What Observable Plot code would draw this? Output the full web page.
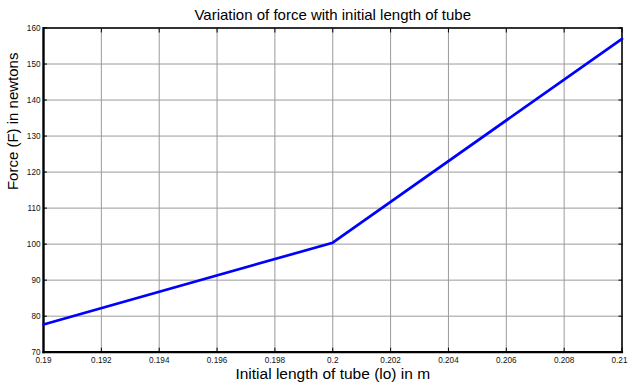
<!DOCTYPE html>
<html>
<head>
<meta charset="utf-8">
<script src="https://cdn.jsdelivr.net/npm/d3@7"></script>
<script src="https://cdn.jsdelivr.net/npm/@observablehq/plot@0.6"></script>
<style>
  html, body { margin: 0; padding: 0; background: #fff; }
  svg { font-family: "Liberation Sans", Arial, sans-serif; }
</style>
</head>
<body>
<div id="chart"></div>
<script>
const lengths = [0.19, 0.2, 0.21];
const forces = [77.7, 100.4, 157.0];
const xTicks = [0.19, 0.192, 0.194, 0.196, 0.198, 0.2, 0.202, 0.204, 0.206, 0.208, 0.21];
const yTicks = [70, 80, 90, 100, 110, 120, 130, 140, 150, 160];
const title = "Variation of force with initial length of tube";
const xLabel = "Initial length of tube (lo) in m";
const yLabel = "Force (F) in newtons";

const data = lengths.map((x, i) => ({x, y: forces[i]}));
const fmtX = d => String(+d.toFixed(3));

const chart = Plot.plot({
  width: 628,
  height: 385,
  marginLeft: 43,
  marginRight: 6.5,
  marginTop: 27.5,
  marginBottom: 33.3,
  style: {fontFamily: '"Liberation Sans", Arial, sans-serif', background: "#fff"},
  x: {domain: [0.19, 0.21], label: null},
  y: {domain: [70, 160], label: null},
  marks: [
    Plot.gridX(xTicks, {stroke: "#9a9a9a", strokeOpacity: 1, strokeWidth: 1}),
    Plot.gridY(yTicks, {stroke: "#9a9a9a", strokeOpacity: 1, strokeWidth: 1}),
    Plot.axisX(xTicks.slice(0, -1), {anchor: "bottom", label: null, tickSize: 0, tickPadding: 4.5, tickFormat: fmtX, fontSize: 8.2, fill: "#111"}),
    Plot.axisX(xTicks.slice(-1), {anchor: "bottom", label: null, tickSize: 0, tickPadding: 4.5, tickFormat: fmtX, fontSize: 8.2, fill: "#111", dx: -2.5}),
    Plot.axisY(yTicks, {anchor: "left", label: null, tickSize: 0, tickPadding: 3, fontSize: 8.2, fill: "#111"}),
    Plot.axisX(xTicks, {anchor: "bottom", label: null, tickSize: -4, text: null, stroke: "#000"}),
    Plot.axisX(xTicks, {anchor: "top", label: null, tickSize: -4, text: null, stroke: "#000"}),
    Plot.axisY(yTicks, {anchor: "left", label: null, tickSize: -4, text: null, stroke: "#000"}),
    Plot.axisY(yTicks, {anchor: "right", label: null, tickSize: -4, text: null, stroke: "#000"}),
    Plot.frame({stroke: "#000", strokeWidth: 1.5}),
    Plot.frame({anchor: "left", stroke: "#000", strokeWidth: 2.2}),
    Plot.frame({anchor: "bottom", stroke: "#000", strokeWidth: 2.2}),
    Plot.line(data, {x: "x", y: "y", stroke: "#0000ff", strokeWidth: 2.7}),
    Plot.text([title], {frameAnchor: "top", dy: -12.5, lineAnchor: "middle", fontSize: 15, fill: "#000"}),
    Plot.text([xLabel], {frameAnchor: "bottom", dy: 21.5, lineAnchor: "middle", fontSize: 15.5, fill: "#000"}),
    Plot.text([yLabel], {frameAnchor: "left", dx: -30, rotate: -90, lineAnchor: "middle", fontSize: 15, fill: "#000"})
  ]
});
document.getElementById("chart").appendChild(chart);
</script>
</body>
</html>
